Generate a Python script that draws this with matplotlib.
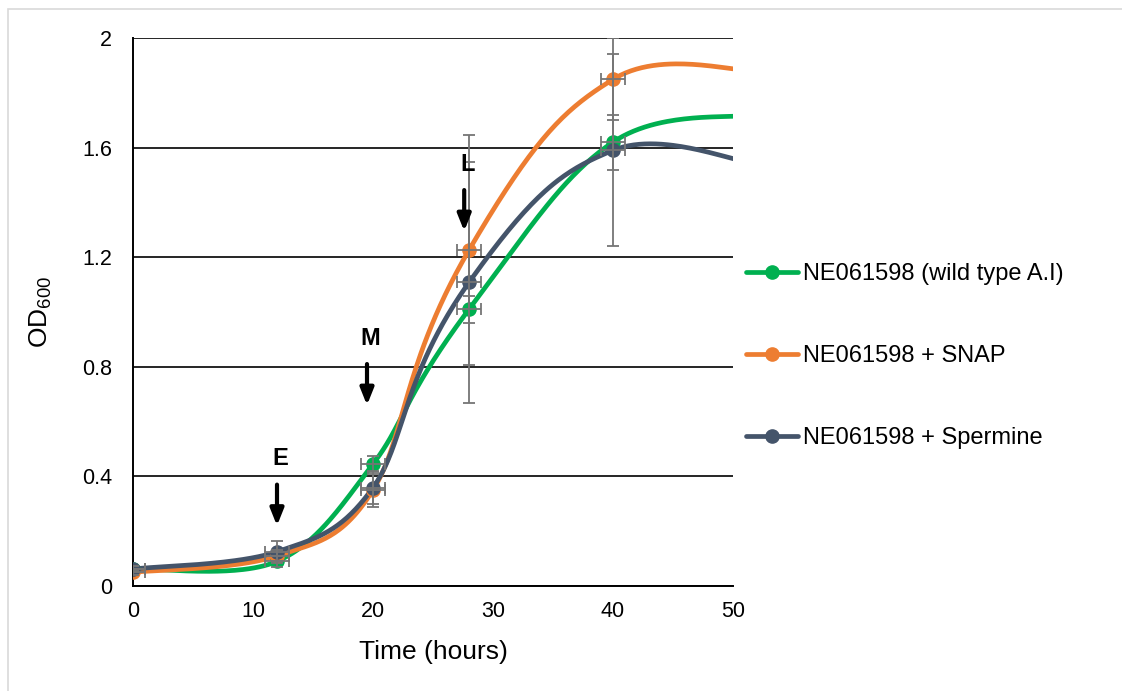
import numpy as np
import matplotlib
matplotlib.use('Agg')
import matplotlib.pyplot as plt
from matplotlib.patches import Rectangle

plt.rcParams['font.family'] = ['Liberation Sans', 'DejaVu Sans']
plt.rcParams['mathtext.fontset'] = 'custom'
plt.rcParams['mathtext.rm'] = 'Liberation Sans'
plt.rcParams['mathtext.it'] = 'Liberation Sans'

# time points (hours); the last one lies past the axis end and only shapes the curve
time_h = [0, 12, 20, 28, 40, 52]

wild_od = [0.062, 0.09, 0.445, 1.01, 1.62, 1.72]
snap_od = [0.05, 0.11, 0.35, 1.226, 1.849, 1.88]
sperm_od = [0.062, 0.125, 0.359, 1.108, 1.59, 1.54]

wild_err = [0.01, 0.02, 0.03, 0.05, 0.10]
snap_err = [0.01, 0.02, 0.06, 0.42, 0.15]
sperm_err = [0.01, 0.04, 0.06, 0.44, 0.35]
time_err = [1, 1, 1, 1, 1]

labels = ['NE061598 (wild type A.I)', 'NE061598 + SNAP', 'NE061598 + Spermine']
colors = ['#00B050', '#ED7D31', '#44546A']

phase_labels = ['E', 'M', 'L']
phase_x = [12.0, 19.5, 27.6]
phase_y = [0.37, 0.81, 1.445]

# smoothing tension at each knot
tension = [1 / 6, 1 / 6, 1 / 6, 0.28, 1 / 6, 1 / 6]


def excel_smooth(x, y, f, n=60):
    # bezier smoothing, roughly what excel does for "smoothed line"
    p = np.column_stack([x, y]).astype(float)
    out = [p[0]]
    for i in range(len(p) - 1):
        p0 = p[i - 1] if i > 0 else p[i]
        p3 = p[i + 2] if i + 2 < len(p) else p[i + 1]
        c1 = p[i] + (p[i + 1] - p0) * f[i]
        c2 = p[i + 1] - (p3 - p[i]) * f[i + 1]
        t = np.linspace(0, 1, n)[1:, None]
        seg = ((1 - t) ** 3 * p[i] + 3 * t * (1 - t) ** 2 * c1
               + 3 * t ** 2 * (1 - t) * c2 + t ** 3 * p[i + 1])
        out.extend(seg)
    out = np.array(out)
    return out[:, 0], out[:, 1]


fig = plt.figure(figsize=(11.22, 6.91), dpi=100)
ax = fig.add_axes([133 / 1122, 105 / 691, 600 / 1122, 548 / 691])

series = [(wild_od, wild_err), (snap_od, snap_err), (sperm_od, sperm_err)]
handles = []
for (od, err), lab, col in zip(series, labels, colors):
    sx, sy = excel_smooth(time_h, od, tension)
    ax.plot(sx, sy, color=col, lw=3.4, solid_capstyle='round', zorder=3)
    ax.plot(time_h[:5], od[:5], 'o', color=col, ms=9.5, zorder=4)
    ax.errorbar(time_h[:5], od[:5], yerr=err, xerr=time_err, fmt='none',
                ecolor='#757575', elinewidth=1.3, capsize=4, capthick=1.3,
                zorder=5)
    handles.append(plt.Line2D([], [], color=col, lw=3.4, marker='o', ms=9.5,
                              solid_capstyle='round'))

ax.set_xlim(0, 50)
ax.set_ylim(0, 2)
ax.set_xticks(np.arange(0, 51, 10))
ax.set_yticks([0, 0.4, 0.8, 1.2, 1.6, 2.0])
ax.set_yticklabels(['0', '0.4', '0.8', '1.2', '1.6', '2'])
ax.tick_params(length=0, labelsize=15.5, colors='black')
ax.tick_params(axis='y', pad=15)
ax.tick_params(axis='x', pad=11)
ax.grid(axis='y', color='black', lw=1.2)
ax.set_axisbelow(True)
for s in ['top', 'right']:
    ax.spines[s].set_visible(False)
for s in ['left', 'bottom']:
    ax.spines[s].set_color('black')
    ax.spines[s].set_linewidth(1.4)

ax.set_xlabel('Time (hours)', fontsize=19, labelpad=13)
ax.set_ylabel(r'OD$_{600}$', fontsize=19, labelpad=20)

for lab, px, py in zip(phase_labels, phase_x, phase_y):
    ax.annotate('', xy=(px, py - 0.15), xytext=(px, py),
                arrowprops=dict(arrowstyle='-|>,head_width=0.4,head_length=1.0',
                                lw=3, color='black', shrinkA=0, shrinkB=0),
                zorder=6)
    ax.text(px + 0.3, py + 0.095, lab, fontsize=17, fontweight='bold',
            ha='center', va='center', zorder=6)

fig.legend(handles, labels, loc='center left',
           bbox_to_anchor=(746 / 1122, (691 - 356) / 691),
           frameon=False, fontsize=17, handlelength=2.2, handletextpad=0.2,
           labelspacing=2.55, borderpad=0, borderaxespad=0)

fig.patches.append(Rectangle((8 / 1122, -0.1), 1.2, (691 - 9) / 691 + 0.1,
                             transform=fig.transFigure, fill=False,
                             edgecolor='#d9d9d9', lw=1.2))

fig.savefig('out.png', dpi=100)
